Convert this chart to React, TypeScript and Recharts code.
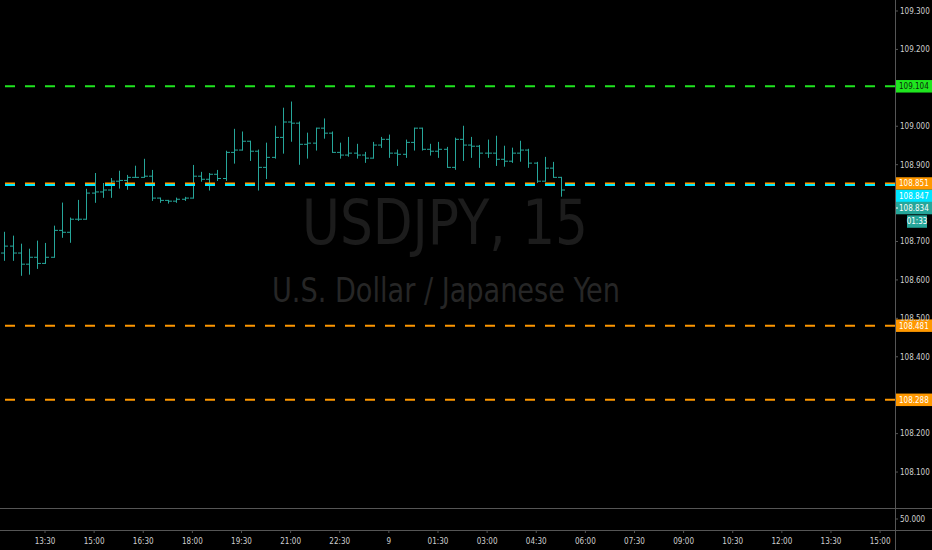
import React from 'react';
import { ComposedChart, Bar, XAxis, YAxis, ReferenceLine } from 'recharts';

// ---- data (USDJPY, 15 min OHLC) ----
// bar times in minutes after 12:00 on day 8
const barTimes = [
  15, 30, 45, 60, 75, 90, 105, 120, 135, 150,
  165, 180, 195, 210, 225, 240, 255, 270, 285, 300,
  315, 330, 345, 360, 375, 390, 405, 420, 435, 450,
  465, 480, 495, 510, 525, 540, 555, 570, 585, 600,
  615, 630, 645, 660, 675, 690, 705, 720, 735, 750,
  765, 780, 795, 810, 825, 840, 855, 870, 885, 900,
  915, 930, 945, 960, 975, 990, 1005, 1020, 1035,
];

const opens = [
  108.670, 108.688, 108.670, 108.641, 108.659, 108.643, 108.659, 108.729, 108.724, 108.758,
  108.758, 108.826, 108.829, 108.834, 108.857, 108.859, 108.867, 108.867, 108.870, 108.813,
  108.807, 108.805, 108.810, 108.813, 108.870, 108.862, 108.875, 108.864, 108.932, 108.938,
  108.961, 108.935, 108.893, 108.919, 108.971, 109.011, 109.008, 108.953, 108.956, 108.995,
  108.982, 108.932, 108.925, 108.930, 108.925, 108.917, 108.951, 108.966, 108.930, 108.927,
  108.958, 108.995, 108.940, 108.935, 108.940, 108.893, 108.966, 108.951, 108.948, 108.930,
  108.930, 108.914, 108.909, 108.930, 108.938, 108.904, 108.857, 108.891, 108.867,
];

const highs = [
  108.724, 108.714, 108.693, 108.680, 108.701, 108.695, 108.740, 108.800, 108.761, 108.807,
  108.836, 108.877, 108.851, 108.864, 108.883, 108.872, 108.896, 108.914, 108.885, 108.813,
  108.807, 108.813, 108.815, 108.898, 108.880, 108.877, 108.885, 108.935, 108.992, 108.985,
  108.961, 108.938, 108.956, 109.000, 109.047, 109.063, 109.011, 108.982, 108.995, 109.019,
  108.985, 108.956, 108.971, 108.953, 108.932, 108.958, 108.971, 108.977, 108.938, 108.964,
  108.995, 108.995, 108.953, 108.958, 108.945, 108.969, 109.000, 108.971, 108.950, 108.964,
  108.974, 108.948, 108.943, 108.961, 108.940, 108.906, 108.919, 108.906, 108.867,
];

const lows = [
  108.651, 108.651, 108.612, 108.615, 108.630, 108.643, 108.659, 108.711, 108.698, 108.755,
  108.758, 108.802, 108.815, 108.815, 108.839, 108.836, 108.867, 108.867, 108.807, 108.802,
  108.800, 108.802, 108.807, 108.813, 108.857, 108.834, 108.859, 108.859, 108.904, 108.938,
  108.911, 108.834, 108.864, 108.917, 108.930, 108.961, 108.901, 108.917, 108.938, 108.969,
  108.932, 108.917, 108.922, 108.917, 108.906, 108.917, 108.945, 108.919, 108.898, 108.919,
  108.938, 108.938, 108.925, 108.919, 108.893, 108.888, 108.911, 108.919, 108.893, 108.919,
  108.898, 108.896, 108.906, 108.909, 108.893, 108.854, 108.857, 108.867, 108.818,
];

const closes = [
  108.688, 108.670, 108.641, 108.659, 108.643, 108.659, 108.729, 108.724, 108.758, 108.758,
  108.826, 108.829, 108.834, 108.857, 108.859, 108.867, 108.867, 108.870, 108.813, 108.807,
  108.805, 108.810, 108.813, 108.870, 108.862, 108.875, 108.864, 108.932, 108.938, 108.961,
  108.935, 108.893, 108.919, 108.971, 109.011, 109.008, 108.953, 108.956, 108.995, 108.982,
  108.932, 108.925, 108.930, 108.925, 108.917, 108.951, 108.966, 108.930, 108.927, 108.958,
  108.995, 108.940, 108.935, 108.940, 108.893, 108.966, 108.951, 108.948, 108.930, 108.930,
  108.914, 108.909, 108.930, 108.938, 108.904, 108.857, 108.891, 108.867, 108.834,
];

// price axis ticks (those hidden behind tags are omitted, as on the original)
const priceTicks = [108.1, 108.2, 108.4, 108.5, 108.6, 108.7, 108.9, 109.0, 109.2, 109.3];

// time axis ticks (minutes after 12:00 on day 8) and their labels
const timeTickValues = [90, 180, 270, 360, 450, 540, 630, 720, 810, 900, 990, 1080, 1170, 1260, 1350, 1440, 1530, 1620];
const timeTickLabels = ['13:30', '15:00', '16:30', '18:00', '19:30', '21:00', '22:30', '9', '01:30', '03:00', '04:30', '06:00', '07:30', '09:00', '10:30', '12:00', '13:30', '15:00'];

// horizontal levels drawn on the chart
const levelPrices = [109.104, 108.851, 108.847, 108.481, 108.288];
const levelColors = ['#1fe61f', '#ff9800', '#00e5ff', '#ff9800', '#ff9800'];
const levelTextColors = ['#0b2a0b', '#ffffff', '#ffffff', '#ffffff', '#ffffff'];
const levelTagShift = [0, 0, 11, 0, 0];

const lastPrice = 108.834;
const countdown = '01:33';

// indicator pane scale
const paneTicks = [50];

// ---- layout / style ----
const W = 932;
const MAIN_H = 508;
const AXIS_W = 37;
const PLOT_W = W - AXIS_W;
const X_DOMAIN: [number, number] = [7.55, 1647.3];
const Y_DOMAIN: [number, number] = [108.0064, 109.3286];
const FONT = '"DejaVu Sans Condensed", "DejaVu Sans", sans-serif';
const AXIS_FS = 8;
const BAR_COLOR = '#26a69a';
const TEXT_COLOR = '#cfcfcf';
const LINE_COLOR = '#555555';
const TAG_H = 12.5;

const rows = barTimes.map((t, i) => ({
  t,
  open: opens[i],
  high: highs[i],
  low: lows[i],
  close: closes[i],
  range: [lows[i], highs[i]],
}));

const OhlcShape = (props: any) => {
  const { x, y, width, height, payload } = props;
  if (x == null || y == null || !payload) return null;
  const cx = Math.round(x + width / 2) + 0.5;
  const top = Math.min(y, y + height);
  const bot = Math.max(y, y + height);
  const span = payload.high - payload.low;
  const toY = (v: number) => (span === 0 ? top : top + ((payload.high - v) / span) * (bot - top));
  const oy = toY(payload.open);
  const cy = toY(payload.close);
  return (
    <g stroke={BAR_COLOR} strokeWidth={1} fill="none">
      <line x1={cx} x2={cx} y1={top - 0.5} y2={bot + 0.5} />
      <line x1={cx - 3.5} x2={cx} y1={oy} y2={oy} />
      <line x1={cx} x2={cx + 3.5} y1={cy} y2={cy} />
    </g>
  );
};

const makeTag = (text: string, bg: string, fg: string, shift: number) => (props: any) => {
  const vb = props.viewBox || {};
  const x0 = (vb.x ?? 0) + (vb.width ?? 0);
  const cy = (vb.y ?? 0) + shift;
  return (
    <g>
      <rect x={x0} y={cy - TAG_H / 2} width={AXIS_W} height={TAG_H} fill={bg} />
      <text x={x0 + 4} y={cy} dy="0.36em" fill={fg} fontSize={AXIS_FS} fontFamily={FONT}>
        {text}
      </text>
    </g>
  );
};

const LastPriceTag = (props: any) => {
  const vb = props.viewBox || {};
  const x0 = (vb.x ?? 0) + (vb.width ?? 0);
  const cy = (vb.y ?? 0) + 18;
  const cy2 = cy + 13.5;
  return (
    <g>
      <rect x={x0} y={cy - TAG_H / 2} width={AXIS_W} height={TAG_H} fill={BAR_COLOR} />
      <line x1={x0} x2={x0 + 3} y1={cy} y2={cy} stroke="#ffffff" />
      <text x={x0 + 4} y={cy} dy="0.36em" fill="#ffffff" fontSize={AXIS_FS} fontFamily={FONT}>
        {lastPrice.toFixed(3)}
      </text>
      <rect x={x0 + 12} y={cy2 - TAG_H / 2} width={20} height={TAG_H} fill={BAR_COLOR} />
      <text x={x0 + 22} y={cy2} dy="0.36em" fill="#ffffff" fontSize={AXIS_FS} fontFamily={FONT} textAnchor="middle">
        {countdown}
      </text>
    </g>
  );
};

const tickStyle = { fontSize: AXIS_FS, fill: TEXT_COLOR, fontFamily: FONT };

export default function App() {
  return (
    <div style={{ position: 'relative', width: W, height: 550, background: '#000', overflow: 'hidden' }}>
      <style>{'body{margin:0;background:#000;}'}</style>
      <svg style={{ position: 'absolute', left: 0, top: 0 }} width={PLOT_W} height={MAIN_H}>
        <text
          x={445}
          y={244}
          textAnchor="middle"
          fontSize={62}
          fill="#1c1c1c"
          fontFamily={FONT}
          textLength={286}
          lengthAdjust="spacingAndGlyphs"
        >
          USDJPY, 15
        </text>
        <text
          x={446}
          y={302}
          textAnchor="middle"
          fontSize={33}
          fill="#262626"
          fontFamily={FONT}
          textLength={348}
          lengthAdjust="spacingAndGlyphs"
        >
          U.S. Dollar / Japanese Yen
        </text>
      </svg>
      <div style={{ position: 'absolute', left: 0, top: 0 }}>
        <ComposedChart width={W} height={MAIN_H} data={rows} margin={{ top: 0, right: 0, bottom: 0, left: 0 }}>
          <XAxis type="number" dataKey="t" domain={X_DOMAIN} allowDataOverflow hide />
          <YAxis
            orientation="right"
            width={AXIS_W}
            domain={Y_DOMAIN}
            allowDataOverflow
            ticks={priceTicks}
            interval={0}
            tickFormatter={(v: number) => v.toFixed(3)}
            tick={tickStyle}
            tickSize={3}
            tickMargin={2}
            tickLine={{ stroke: LINE_COLOR }}
            axisLine={false}
          />
          <Bar dataKey="range" barSize={7} shape={OhlcShape} isAnimationActive={false} />
          {levelPrices.map((p, i) => (
            <ReferenceLine
              key={'l' + i}
              y={p}
              stroke={levelColors[i]}
              strokeWidth={2}
              strokeDasharray="10 10"
              label={makeTag(p.toFixed(3), levelColors[i], levelTextColors[i], levelTagShift[i])}
            />
          ))}
          <ReferenceLine y={lastPrice} stroke="none" strokeOpacity={0} label={LastPriceTag} />
        </ComposedChart>
      </div>
      <div style={{ position: 'absolute', left: 0, top: MAIN_H }}>
        <ComposedChart width={W} height={550 - MAIN_H} data={rows} margin={{ top: 0, right: 0, bottom: 0, left: 0 }}>
          <XAxis
            type="number"
            dataKey="t"
            domain={X_DOMAIN}
            allowDataOverflow
            ticks={timeTickValues}
            interval={0}
            tickFormatter={(v: number) => timeTickLabels[timeTickValues.indexOf(v)] ?? ''}
            tick={tickStyle}
            tickSize={3}
            tickMargin={5}
            tickLine={{ stroke: LINE_COLOR }}
            axisLine={false}
            height={20}
          />
          <YAxis
            orientation="right"
            width={AXIS_W}
            domain={[0, 100]}
            allowDataOverflow
            ticks={paneTicks}
            interval={0}
            tickFormatter={(v: number) => v.toFixed(3)}
            tick={tickStyle}
            tickSize={3}
            tickMargin={2}
            tickLine={{ stroke: LINE_COLOR }}
            axisLine={false}
          />
        </ComposedChart>
      </div>
      {/* pane borders */}
      <div style={{ position: 'absolute', left: PLOT_W, top: 0, width: 1, height: 550, background: LINE_COLOR }} />
      <div style={{ position: 'absolute', left: 0, top: MAIN_H, width: W, height: 1, background: LINE_COLOR }} />
      <div style={{ position: 'absolute', left: 0, top: 530, width: W, height: 1, background: LINE_COLOR }} />
    </div>
  );
}
